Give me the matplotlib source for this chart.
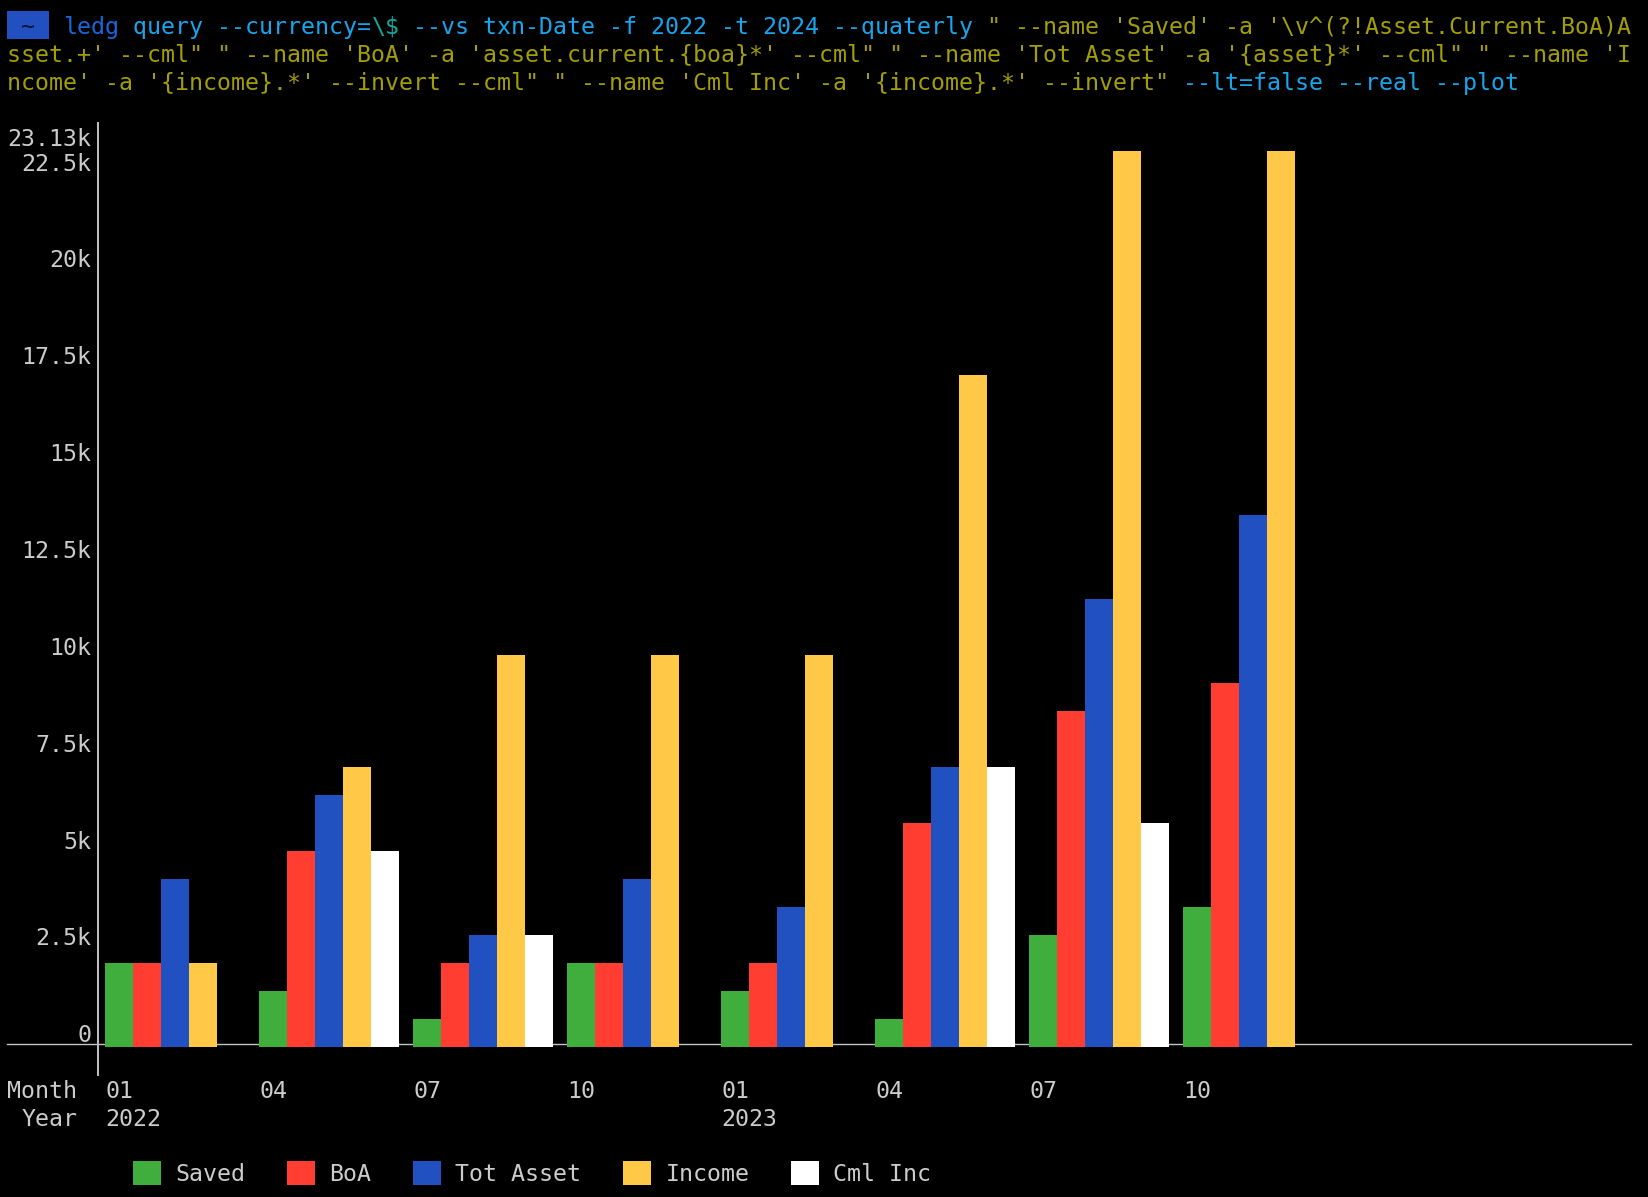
import matplotlib
matplotlib.use('Agg')
import matplotlib.pyplot as plt
import matplotlib.transforms as mtransforms
from matplotlib.lines import Line2D
from matplotlib.patches import Rectangle

# ---------------- data ----------------
quarters = ["01", "04", "07", "10", "01", "04", "07", "10"]
years = ["2022", "", "", "", "2023", "", "", ""]
series_names = ["Saved", "BoA", "Tot Asset", "Income", "Cml Inc"]
saved = [2170, 1450, 720, 2170, 1450, 720, 2890, 3610]
boa = [2170, 5060, 2170, 2170, 2170, 5780, 8670, 9400]
tot_asset = [4340, 6500, 2890, 4340, 3610, 7230, 11570, 13730]
income = [2170, 7230, 10120, 10120, 10120, 17350, 23130, 23130]
cml_inc = [0, 5060, 2890, 0, 0, 7230, 5780, 0]
ytick_values = [0, 2500, 5000, 7500, 10000, 12500, 15000, 17500, 20000, 22500, 23130]
ytick_labels = ["0", "2.5k", "5k", "7.5k", "10k", "12.5k", "15k", "17.5k", "20k", "22.5k", "23.13k"]
series_values = [saved, boa, tot_asset, income, cml_inc]
colors = ["#3fae3c", "#ff3d30", "#2150c0", "#ffc846", "#ffffff"]

# header command line (terminal)
LEDG = "#1a66dc"
LB = "#16a6ee"
TEAL = "#14a89c"
OL = "#a39e06"
header_lines = [
    [("ledg", LEDG), (" query --currency=", LB), (r"\$", TEAL),
     (" --vs txn-Date -f 2022 -t 2024 --quaterly", LB),
     (r""" " --name 'Saved' -a '\v^(?!Asset.Current.BoA)A""", OL)],
    [(r"""sset.+' --cml" " --name 'BoA' -a 'asset.current.{boa}*' --cml" " --name 'Tot Asset' -a '{asset}*' --cml" " --name 'I""", OL)],
    [(r"""ncome' -a '{income}.*' --invert --cml" " --name 'Cml Inc' -a '{income}.*' --invert""" + '"', OL),
     (" --lt=false --real --plot", LB)],
]

# ---------------- layout (terminal cell grid) ----------------
W, H = 1648, 1197
CW, RH = 14.0, 28.0      # cell width / row height in px
X0, Y0 = 7.4, 25.2       # left edge of col 0, center of row 0 (px from top)
FS = CW / 0.60205 * 72 / 100   # DejaVu Sans Mono size so one char = CW px
GRAY = "#cccccc"
AXIS = "#c4c4c4"

plt.rcParams['font.family'] = ['DejaVu Sans Mono', 'DejaVu Sans']


def col_x(c):
    return (X0 + CW * c) / W


def row_base(r):
    return 1 - (Y0 + RH * r + 8.5) / H


fig = plt.figure(figsize=(W / 100, H / 100), dpi=100, facecolor='black')

# header
fig.add_artist(Rectangle((col_x(0), 1 - (Y0 + RH / 2) / H), 3 * CW / W, RH / H,
                         transform=fig.transFigure, color="#2350c0", lw=0))
fig.text(col_x(1), row_base(0), "~", color="#0a1030", fontsize=FS, ha='left',
         va='baseline', parse_math=False)
for r, segs in enumerate(header_lines):
    c = 4 if r == 0 else 0
    for s, colr in segs:
        fig.text(col_x(c), row_base(r), s, color=colr, fontsize=FS, ha='left',
                 va='baseline', parse_math=False)
        c += len(s)

# axes
ax_left = X0 + CW * 6.5
ax_right = X0 + CW * 116
ax_top = Y0 + RH * 4 - RH / 2
ax_bot = Y0 + RH * 37 + RH / 2
ax = fig.add_axes([ax_left / W, 1 - ax_bot / H, (ax_right - ax_left) / W, (ax_bot - ax_top) / H])
ax.set_facecolor('black')

VPR = 722.8  # value per terminal row
ax.set_ylim(-VPR, 33 * VPR)
ax.set_xlim(-0.5 / 11, 109 / 11)

n_groups = len(quarters)
bw = 2 / 11
for s, (name, vals, colr) in enumerate(zip(series_names, series_values, colors)):
    ax.bar([g + s * bw for g in range(n_groups)], vals, width=bw, align='edge',
           color=colr, linewidth=0, label=name, zorder=3)

for sp in ['top', 'right', 'bottom']:
    ax.spines[sp].set_visible(False)
ax.spines['left'].set_color(AXIS)
ax.spines['left'].set_linewidth(1.4)

# zero line spanning the terminal width
zl_tr = mtransforms.blended_transform_factory(fig.transFigure, ax.transData) + \
    mtransforms.ScaledTranslation(0, 3.6 / 100, fig.dpi_scale_trans)
ax.add_line(Line2D([col_x(0), col_x(116)], [0, 0], transform=zl_tr, color=AXIS,
                   lw=1.0, clip_on=False, zorder=1))

# y ticks
ax.set_yticks(ytick_values, ytick_labels)
ax.tick_params(axis='y', length=0, pad=(ax_left - (X0 + CW * 6)) * 0.72,
               labelsize=FS, labelcolor=GRAY)
for lab in ax.get_yticklabels():
    lab.set_va('bottom')

# x ticks
ax.set_xticks(range(n_groups), quarters)
ax.tick_params(axis='x', length=0, pad=((Y0 + RH * 38 + 8.5) - ax_bot) * 0.72,
               labelsize=FS, labelcolor=GRAY)
for lab in ax.get_xticklabels():
    lab.set_ha('left')
    lab.set_va('baseline')

yr_tr = mtransforms.blended_transform_factory(ax.transData, fig.transFigure)
for g, yr in enumerate(years):
    if yr:
        ax.text(g, row_base(39), yr, transform=yr_tr, ha='left', va='baseline',
                color=GRAY, fontsize=FS, clip_on=False)

fig.text(col_x(0), row_base(38), "Month", color=GRAY, fontsize=FS, ha='left', va='baseline')
fig.text(col_x(1), row_base(39), "Year", color=GRAY, fontsize=FS, ha='left', va='baseline')

# legend
handles, labels = ax.get_legend_handles_labels()
fig.legend(handles, labels, loc='center left',
           bbox_to_anchor=(col_x(9), 1 - (Y0 + RH * 41) / H),
           ncol=5, frameon=False, borderpad=0, borderaxespad=0,
           handlelength=RH / (FS * 100 / 72), handleheight=RH / (FS * 100 / 72),
           handletextpad=CW / (FS * 100 / 72), columnspacing=3 * CW / (FS * 100 / 72),
           prop={'family': 'DejaVu Sans Mono', 'size': FS}, labelcolor=GRAY)

fig.savefig('out.png', dpi=100, facecolor='black')
